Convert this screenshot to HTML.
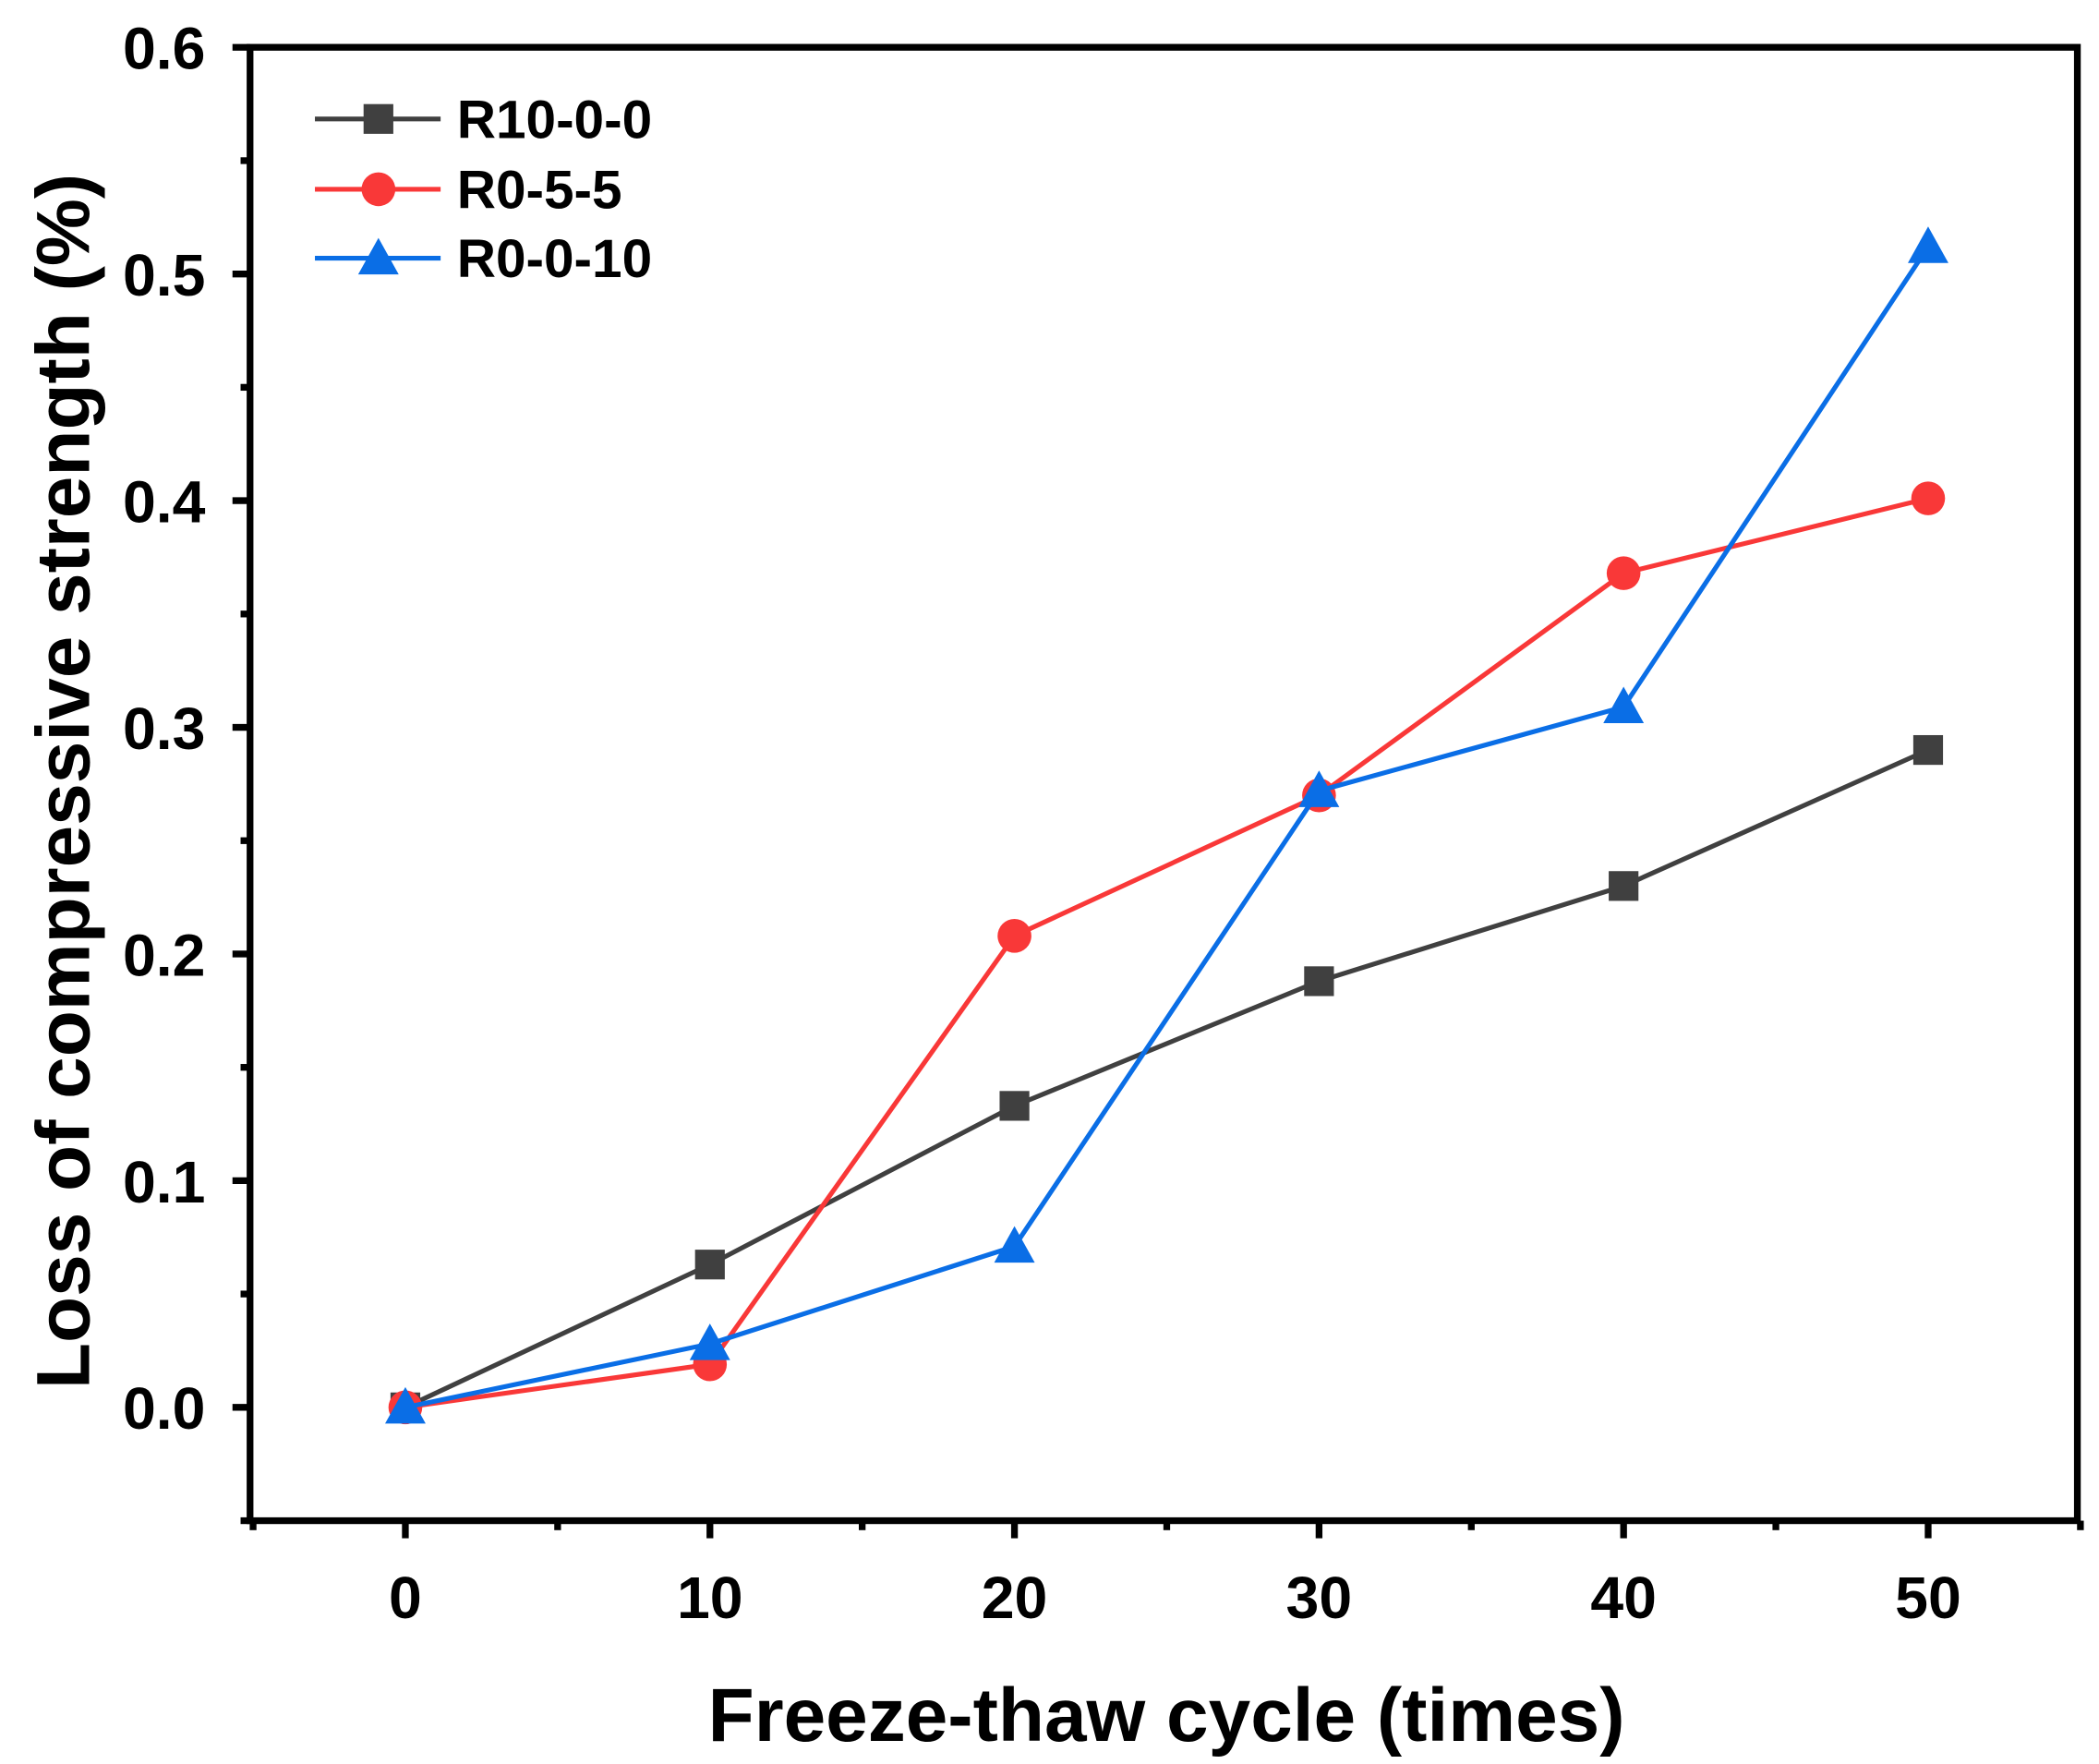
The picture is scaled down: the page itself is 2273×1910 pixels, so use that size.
<!DOCTYPE html>
<html><head><meta charset="utf-8"><style>
html,body{margin:0;padding:0;background:#fff;}
svg{display:block;}
text{font-family:"Liberation Sans",Arial,sans-serif;font-weight:bold;fill:#000;}
</style></head><body>
<svg id="chart" width="2273" height="1910" viewBox="0 0 1553 1305" preserveAspectRatio="none" xmlns="http://www.w3.org/2000/svg"></svg>
<script>
const categories = [0, 10, 20, 30, 40, 50];
const seriesNames = ["R10-0-0", "R0-5-5", "R0-0-10"];
const seriesR10 = [0, 0.063, 0.133, 0.188, 0.230, 0.290];
const seriesR055 = [0, 0.019, 0.208, 0.270, 0.368, 0.401];
const seriesR0010 = [0, 0.028, 0.071, 0.272, 0.309, 0.512];
const yTicks = ["0.0", "0.1", "0.2", "0.3", "0.4", "0.5", "0.6"];
const xTicks = ["0", "10", "20", "30", "40", "50"];

const NS = "http://www.w3.org/2000/svg";
const svg = document.getElementById("chart");
const L = 185, R = 1537, T = 35, B = 1125;
const xMin = -5.1, xMax = 54.9, yMin = -0.05, yMax = 0.6;
function xs(v){ return L + (v - xMin) / (xMax - xMin) * (R - L); }
function ys(v){ return B - (v - yMin) / (yMax - yMin) * (B - T); }
function el(tag, attrs, parent){
  const e = document.createElementNS(NS, tag);
  for (const k in attrs) e.setAttribute(k, attrs[k]);
  (parent || svg).appendChild(e);
  return e;
}

const frame = el("rect", {x:L, y:T, width:R-L, height:B-T, fill:"none", stroke:"#000", "stroke-width":5});



for (let i = 0; i < yTicks.length; i++) {
  const v = parseFloat(yTicks[i]);
  const t = el("line", {x1:L-13, x2:L, y1:ys(v), y2:ys(v), stroke:"#000", "stroke-width":5});
  
  
  const lb = el("text", {x:L-33, y:ys(v)+16, "font-size":44, "text-anchor":"end"});
  lb.textContent = yTicks[i];
  
  
}
for (let v = -0.05; v < 0.6; v += 0.1) {
  const t = el("line", {x1:L-7, x2:L, y1:ys(v), y2:ys(v), stroke:"#000", "stroke-width":5});
  
  
}
for (let i = 0; i < xTicks.length; i++) {
  const v = parseFloat(xTicks[i]);
  const t = el("line", {x1:xs(v), x2:xs(v), y1:B, y2:B+13, stroke:"#000", "stroke-width":5});
  
  
  const lb = el("text", {x:xs(v), y:B+72, "font-size":44, "text-anchor":"middle"});
  lb.textContent = xTicks[i];
  
  
}
for (let v = -5; v <= 55; v += 10) {
  const t = el("line", {x1:xs(v), x2:xs(v), y1:B, y2:B+7, stroke:"#000", "stroke-width":5});
  
  
}

const xt = el("text", {x:863, y:1288, "font-size":56, "text-anchor":"middle"});
xt.textContent = "Freeze-thaw cycle (times)";


const yt = el("text", {x:0, y:0, "font-size":56, "text-anchor":"middle", transform:"translate(66,578) rotate(-90)"});
yt.textContent = "Loss of compressive strength (%)";



const colors = ["#404040", "#f93838", "#0a6ee6"];
const shapes = ["square", "circle", "triangle"];
const allSeries = [seriesR10, seriesR055, seriesR0010];

function marker(shape, cx, cy, color, parent){
  let m;
  if (shape === "square") m = el("rect", {x:cx-11, y:cy-11, width:22, height:22, fill:color}, parent);
  else if (shape === "circle") m = el("circle", {cx:cx, cy:cy, r:12.5, fill:color}, parent);
  else m = el("polygon", {points:`${cx},${cy-15} ${cx+15},${cy+12} ${cx-15},${cy+12}`, fill:color}, parent);
  return m;
}

allSeries.forEach((vals, s) => {
  const g = el("g", {});
  
  
  const pts = vals.map((v, i) => xs(categories[i]) + "," + ys(v)).join(" ");
  const pl = el("polyline", {points:pts, fill:"none", stroke:colors[s], "stroke-width":3.5}, g);
  
  
  vals.forEach((v, i) => {
    const m = marker(shapes[s], xs(categories[i]), ys(v), colors[s], g);
    
    
  });
});

const legY = [88, 140, 191];
seriesNames.forEach((n, s) => {
  const g = el("g", {});
  
  
  el("line", {x1:233, x2:326, y1:legY[s], y2:legY[s], stroke:colors[s], "stroke-width":3.5}, g);
  marker(shapes[s], 280, legY[s], colors[s], g);
  const tx = el("text", {x:338, y:legY[s]+14, "font-size":40}, g);
  tx.textContent = n;
});
</script>
</body></html>
